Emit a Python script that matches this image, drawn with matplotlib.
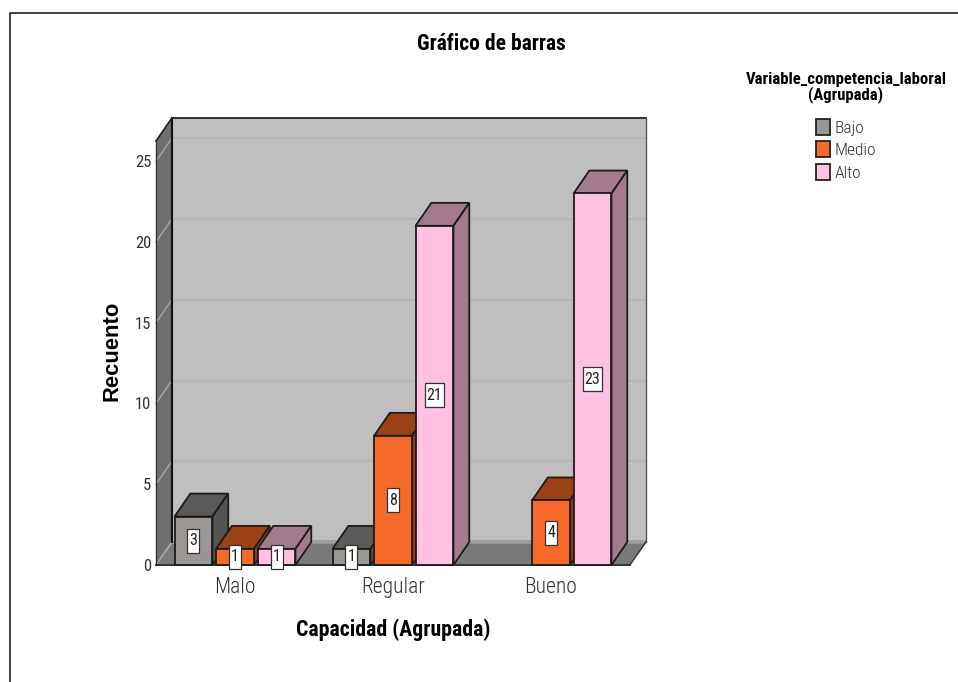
from matplotlib import pyplot as plt
from matplotlib.lines import Line2D
from matplotlib.patches import Patch, Polygon, Rectangle

categories = ['Malo', 'Regular', 'Bueno']
series_names = ['Bajo', 'Medio', 'Alto']
bajo = [3, 1, 0]
medio = [1, 8, 4]
alto = [1, 21, 23]
y_ticks = [0, 5, 10, 15, 20, 25]

colors = ['#9a9693', '#f56a28', '#ffc0e2']
top_colors = ['#5c5a58', '#9c4016', '#a37a8e']
side_colors = ['#555452', '#8f3a14', '#a37a8e']

WIDTH = 0.24
STEP = 0.2627
# oblique offset of the rear face, in data units
DX = 0.1
DY = 1.42
YMAX = 26.25

NARROW = ['Roboto Condensed', 'Liberation Sans', 'DejaVu Sans']


def poly(ax, pts, color, edge='none', lw=0.0, z=1):
    ax.add_patch(Polygon(pts, closed=True, facecolor=color, edgecolor=edge,
                         linewidth=lw, zorder=z, clip_on=False))


def line(ax, xs, ys, color, lw, z=3):
    ax.plot(xs, ys, color=color, lw=lw, zorder=z, clip_on=False)


def draw_box(ax):
    x0, x1 = -0.5, 2.5
    bx0, bx1 = x0 + DX, x1 + DX
    top = YMAX + DY
    poly(ax, [(bx0, DY), (bx1, DY), (bx1, top), (bx0, top)], '#bfbfbf', z=1)
    poly(ax, [(x0, 0), (bx0, DY), (bx0, top), (x0, YMAX)], '#6f6f6f', z=1)
    for t in y_ticks:
        line(ax, [bx0, bx1], [t + DY, t + DY], '#b5b5b5', 1.5, 2)
        line(ax, [x0, bx0], [t, t + DY], '#a6a6a6', 1.0, 2)
    # soft band along the back edge of the floor
    poly(ax, [(bx0, DY - 0.1), (bx1, DY - 0.1), (bx1, DY + 0.12), (bx0, DY + 0.12)], '#a0a0a0', z=2)
    poly(ax, [(x0, 0), (x1, 0), (bx1, DY - 0.1), (bx0, DY - 0.1)], '#7a7a7a', z=2)
    line(ax, [x0, bx0], [0, DY], '#a6a6a6', 1.0, 2)
    line(ax, [bx0, bx0], [DY, top], '#111111', 1.5)
    line(ax, [bx0, bx1], [top, top], '#222222', 1.3)
    line(ax, [x0, bx0], [YMAX, top], '#222222', 1.2)
    line(ax, [x0, x0], [0, YMAX], '#333333', 1.0)
    line(ax, [bx1, bx1], [DY, top], '#555555', 1.0)
    line(ax, [x1, bx1], [0, DY], '#333333', 1.0)
    line(ax, [x0, x1], [0, 0], '#333333', 1.4)


def draw_bar(ax, x, value, s, z):
    left = x - WIDTH / 2
    right = x + WIDTH / 2
    edge = '#1c1c1c'
    poly(ax, [(left, value), (right, value), (right + DX, value + DY), (left + DX, value + DY)],
         top_colors[s], edge, 1.3, z)
    poly(ax, [(right, 0), (right + DX, DY), (right + DX, value + DY), (right, value)],
         side_colors[s], edge, 1.3, z)
    poly(ax, [(left, 0), (right, 0), (right, value), (left, value)],
         colors[s], edge, 1.3, z)


def draw_label(ax, x, value):
    # tall narrow value tag centred on the bar's front face
    w = 0.076 if value < 10 else 0.118
    h = 1.49
    ax.add_patch(Rectangle((x - w / 2, value / 2 - h / 2), w, h, facecolor='white',
                           edgecolor='#333333', linewidth=0.9, zorder=100, clip_on=False))
    ax.text(x, value / 2, str(value), ha='center', va='center', fontsize=11.5,
            family=NARROW, color='#222222', zorder=101, clip_on=False)


def main():
    fig = plt.figure(figsize=(9.58, 6.82), dpi=100)
    ax = fig.add_axes([156 / 958, (682 - 565) / 682, 474 / 958, 424 / 682])
    ax.set_xlim(-0.5, 2.5)
    ax.set_ylim(0, YMAX)
    ax.patch.set_visible(False)
    for spine in ax.spines.values():
        spine.set_visible(False)

    draw_box(ax)

    z = 10
    for i in range(len(categories)):
        for s, values in enumerate([bajo, medio, alto]):
            if values[i] == 0:
                continue
            x = i + (s - 1) * STEP
            draw_bar(ax, x, values[i], s, z)
            draw_label(ax, x, values[i])
            z += 1

    ax.set_xticks(range(len(categories)))
    ax.set_xticklabels(categories, fontsize=15.5, family=NARROW, fontweight=300, color='#333333',
                       va='baseline')
    ax.set_yticks(y_ticks)
    ax.set_yticklabels([str(t) for t in y_ticks], fontsize=12, family=NARROW, color='#333333')
    ax.tick_params(axis='x', length=0, pad=20)
    ax.tick_params(axis='y', length=0, pad=3.5)

    fig.text(491 / 958, 1 - 44 / 682, 'Gráfico de barras', ha='center', va='center',
             fontsize=15.5, fontweight='bold', family=NARROW)
    fig.text(393.5 / 958, 1 - 630 / 682, 'Capacidad (Agrupada)', ha='center', va='center',
             fontsize=15.7, fontweight='bold', family=NARROW)
    fig.text(112 / 958, 1 - 351 / 682, 'Recuento', ha='center', va='center', rotation=90,
             fontsize=15.8, fontweight='bold', family=['Liberation Sans', 'DejaVu Sans'])

    # page border along the top and left
    fig.add_artist(Line2D([10 / 958, 10 / 958, 1], [0, 1 - 13 / 682, 1 - 13 / 682],
                          color='#222222', lw=1.2))

    handles = [Patch(facecolor=c, edgecolor='#222222', linewidth=1.3) for c in colors]
    leg = fig.legend(handles, series_names, title='Variable_competencia_laboral\n(Agrupada)',
                     loc='upper center', bbox_to_anchor=(846 / 958, 1 - 72 / 682), frameon=False,
                     handlelength=0.85, handleheight=1.05, handletextpad=0.25, labelspacing=0.32,
                     borderaxespad=0, borderpad=0, alignment='center',
                     prop={'family': NARROW, 'size': 12.5, 'weight': 300})
    title = leg.get_title()
    title.set_fontproperties({'family': NARROW, 'weight': 'bold', 'size': 12})
    title.set_linespacing(0.95)
    title.set_multialignment('center')
    leg._legend_box.sep = 11
    for text in leg.get_texts():
        text.set_color('#333333')

    fig.savefig('out.png', dpi=100)


if __name__ == '__main__':
    main()
